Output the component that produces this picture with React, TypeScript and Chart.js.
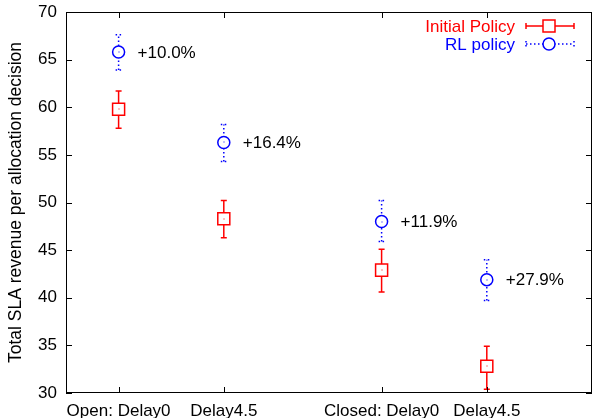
import React, { useEffect, useRef } from "react";
import { Chart, registerables } from "chart.js";

Chart.register(...registerables);

// ---- data ----
const categories = ["Open: Delay0", "Delay4.5", "Closed: Delay0", "Delay4.5"];
const categoryX = [1, 2, 3.5, 4.5];
const initialMean = [59.8, 48.3, 42.9, 32.8];
const initialLow = [57.8, 46.3, 40.6, 30.4];
const initialHigh = [61.7, 50.2, 45.1, 34.9];
const rlMean = [65.8, 56.3, 48.0, 41.9];
const rlLow = [63.9, 54.3, 45.9, 39.7];
const rlHigh = [67.6, 58.2, 50.2, 44.0];
const improvementLabels = ["+10.0%", "+16.4%", "+11.9%", "+27.9%"];
const seriesNames = ["Initial Policy", "RL policy"];
const yMin = 30;
const yMax = 70;
const yStep = 5;
const xMin = 0.5;
const xMax = 5.5;

const RED = "#ff0000";
const BLUE = "#0000ff";
const FONT_FAMILY = "'Liberation Sans', Arial, sans-serif";
const FONT_SIZE = 17;

const errLows = [initialLow, rlLow];
const errHighs = [initialHigh, rlHigh];
const colors = [RED, BLUE];
const dashes: number[][] = [[], [1.5, 2.5]];

const errorBarPlugin = {
  id: "errorBars",
  beforeDatasetsDraw(chart: any) {
    const ctx = chart.ctx;
    const xs = chart.scales.x;
    const ys = chart.scales.y;
    ctx.save();
    for (let d = 0; d < 2; d++) {
      ctx.strokeStyle = colors[d];
      ctx.lineWidth = 1.5;
      ctx.setLineDash(dashes[d]);
      for (let i = 0; i < categoryX.length; i++) {
        const x = xs.getPixelForValue(categoryX[i]);
        const yl = ys.getPixelForValue(errLows[d][i]);
        const yh = ys.getPixelForValue(errHighs[d][i]);
        ctx.beginPath();
        ctx.moveTo(x, yl);
        ctx.lineTo(x, yh);
        ctx.moveTo(x - 3, yl);
        ctx.lineTo(x + 3, yl);
        ctx.moveTo(x - 3, yh);
        ctx.lineTo(x + 3, yh);
        ctx.stroke();
      }
    }
    ctx.restore();
  },
  afterDatasetsDraw(chart: any) {
    const ctx = chart.ctx;
    const xs = chart.scales.x;
    const ys = chart.scales.y;
    ctx.save();
    const means = [initialMean, rlMean];
    for (let d = 0; d < 2; d++) {
      ctx.fillStyle = colors[d];
      for (let i = 0; i < categoryX.length; i++) {
        const x = xs.getPixelForValue(categoryX[i]);
        const y = ys.getPixelForValue(means[d][i]);
        ctx.fillRect(Math.round(x) - 0.5, Math.round(y) - 0.5, 1, 1);
      }
    }
    ctx.fillStyle = "#000";
    ctx.font = `${FONT_SIZE}px ${FONT_FAMILY}`;
    ctx.textAlign = "left";
    ctx.textBaseline = "middle";
    for (let i = 0; i < categoryX.length; i++) {
      const x = xs.getPixelForValue(categoryX[i]);
      const y = ys.getPixelForValue(rlMean[i]);
      ctx.fillText(improvementLabels[i], x + 19, y + 1);
    }
    ctx.restore();
  },
  afterDraw(chart: any) {
    const ctx = chart.ctx;
    const { left, right, top, bottom } = chart.chartArea;
    const xs = chart.scales.x;
    const ys = chart.scales.y;
    ctx.save();
    // frame
    ctx.strokeStyle = "#000";
    ctx.lineWidth = 1;
    ctx.setLineDash([]);
    ctx.strokeRect(left + 0.5, top + 0.5, right - left - 1, bottom - top - 1);
    // inward ticks
    ctx.beginPath();
    ys.ticks.forEach((t: any) => {
      const y = Math.round(ys.getPixelForValue(t.value)) + 0.5;
      ctx.moveTo(left, y);
      ctx.lineTo(left + 6, y);
      ctx.moveTo(right, y);
      ctx.lineTo(right - 6, y);
    });
    xs.ticks.forEach((t: any) => {
      const x = Math.round(xs.getPixelForValue(t.value)) + 0.5;
      ctx.moveTo(x, bottom);
      ctx.lineTo(x, bottom - 6);
      ctx.moveTo(x, top);
      ctx.lineTo(x, top + 6);
    });
    ctx.stroke();

    // legend
    ctx.font = `${FONT_SIZE}px ${FONT_FAMILY}`;
    ctx.textAlign = "right";
    ctx.textBaseline = "middle";
    const rows = [top + 14, top + 32];
    const lx1 = right - 66;
    const lx2 = right - 18;
    const lc = right - 43;
    for (let d = 0; d < 2; d++) {
      const y = rows[d];
      ctx.fillStyle = colors[d];
      ctx.fillText(seriesNames[d], right - 77, y + 1);
      ctx.strokeStyle = colors[d];
      ctx.lineWidth = 1.5;
      ctx.setLineDash(dashes[d]);
      ctx.beginPath();
      ctx.moveTo(lx1, y);
      ctx.lineTo(lx2, y);
      ctx.moveTo(lx1, y - 3);
      ctx.lineTo(lx1, y + 3);
      ctx.moveTo(lx2, y - 3);
      ctx.lineTo(lx2, y + 3);
      ctx.stroke();
      ctx.setLineDash([]);
      ctx.fillStyle = "#fff";
      ctx.beginPath();
      if (d === 0) {
        ctx.rect(lc - 6, y - 6, 12, 12);
      } else {
        ctx.arc(lc, y, 6, 0, Math.PI * 2);
      }
      ctx.fill();
      ctx.stroke();
    }
    ctx.restore();
  },
};

export default function App() {
  const canvasRef = useRef<HTMLCanvasElement | null>(null);

  useEffect(() => {
    const canvas = canvasRef.current;
    if (!canvas) return;
    const yTickValues: number[] = [];
    for (let v = yMin; v <= yMax; v += yStep) yTickValues.push(v);

    const chart = new Chart(canvas, {
      type: "scatter",
      data: {
        datasets: [
          {
            label: seriesNames[0],
            data: categoryX.map((x, i) => ({ x, y: initialMean[i] })),
            pointStyle: "rect",
            pointRadius: 8.5,
            borderColor: RED,
            backgroundColor: "#fff",
            borderWidth: 1.5,
            showLine: false,
          },
          {
            label: seriesNames[1],
            data: categoryX.map((x, i) => ({ x, y: rlMean[i] })),
            pointStyle: "circle",
            pointRadius: 6,
            borderColor: BLUE,
            backgroundColor: "#fff",
            borderWidth: 1.5,
            showLine: false,
          },
        ],
      },
      options: {
        responsive: false,
        animation: false,
        devicePixelRatio: 1,
        events: [],
        layout: { autoPadding: false, padding: { top: 12, right: 0, left: 0, bottom: 0 } },
        plugins: {
          legend: { display: false },
          tooltip: { enabled: false },
        },
        scales: {
          x: {
            type: "linear",
            min: xMin,
            max: xMax,
            grid: { display: false, drawTicks: false },
            border: { display: false },
            afterBuildTicks: (scale: any) => {
              scale.ticks = categoryX.map((v) => ({ value: v }));
            },
            afterFit: (scale: any) => {
              scale.height = 25;
              scale.paddingLeft = 0;
              scale.paddingRight = 0;
            },
            ticks: {
              autoSkip: false,
              maxRotation: 0,
              minRotation: 0,
              padding: 8,
              color: "#000",
              font: { family: FONT_FAMILY, size: FONT_SIZE },
              callback: (_v: any, index: number) => categories[index],
            },
          },
          y: {
            type: "linear",
            min: yMin,
            max: yMax,
            grid: { display: false, drawTicks: false },
            border: { display: false },
            afterBuildTicks: (scale: any) => {
              scale.ticks = yTickValues.map((v) => ({ value: v }));
            },
            afterFit: (scale: any) => {
              scale.width = 66;
              scale.paddingTop = 0;
              scale.paddingBottom = 0;
            },
            ticks: {
              padding: 9,
              color: "#000",
              font: { family: FONT_FAMILY, size: FONT_SIZE },
            },
            title: {
              display: true,
              text: "Total SLA revenue per allocation decision",
              color: "#000",
              font: { family: FONT_FAMILY, size: 17.5 },
              padding: { top: 6, bottom: 0 },
            },
          },
        },
      },
      plugins: [errorBarPlugin],
    } as any);

    return () => chart.destroy();
  }, []);

  return (
    <div style={{ position: "absolute", left: 0, top: 0, width: 592, height: 418, background: "#fff" }}>
      <canvas ref={canvasRef} width={592} height={418} style={{ display: "block", width: 592, height: 418 }} />
    </div>
  );
}
